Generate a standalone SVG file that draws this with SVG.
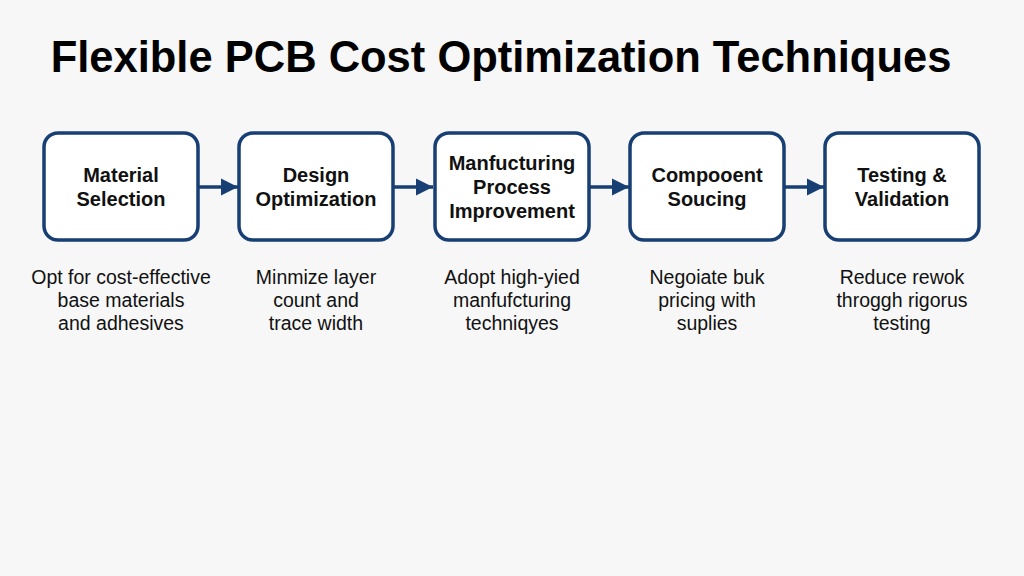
<svg xmlns="http://www.w3.org/2000/svg" width="1024" height="576" viewBox="0 0 1024 576">
<defs>
<marker id="ah" viewBox="0 0 10 10" refX="10" refY="5" markerWidth="5" markerHeight="5" markerUnits="strokeWidth" orient="auto"><path d="M0,0 L10,5 L0,10 z" fill="#173f73"/></marker>
<style>
.box{fill:#ffffff;stroke:#173f73;stroke-width:3.5}
.lbl{font-family:"Liberation Sans",Arial,sans-serif;font-weight:bold;font-size:20px;fill:#111;text-anchor:middle}
.desc{font-family:"Liberation Sans",Arial,sans-serif;font-size:19.5px;fill:#111;text-anchor:middle}
.title{font-family:"Liberation Sans",Arial,sans-serif;font-weight:bold;font-size:43.5px;fill:#000;text-anchor:middle}
.conn{stroke:#173f73;stroke-width:3.5;fill:none;marker-end:url(#ah)}
</style>
</defs>
<rect width="1024" height="576" fill="#f7f7f7"/>
<text class="title" x="501" y="72">Flexible PCB Cost Optimization Techniques</text>
<g id="connectors">
<line class="conn" x1="198" y1="187" x2="238" y2="187"/>
<line class="conn" x1="393" y1="187" x2="433" y2="187"/>
<line class="conn" x1="589" y1="187" x2="629" y2="187"/>
<line class="conn" x1="784" y1="187" x2="824" y2="187"/>
</g>
<g id="n1">
<rect class="box" x="44" y="133" width="154" height="107" rx="14"/>
<text class="lbl" x="121" y="182">Material</text>
<text class="lbl" x="121" y="206">Selection</text>
<text class="desc" x="121" y="284">Opt for cost-effective</text>
<text class="desc" x="121" y="307">base materials</text>
<text class="desc" x="121" y="330">and adhesives</text>
</g>
<g id="n2">
<rect class="box" x="239" y="133" width="154" height="107" rx="14"/>
<text class="lbl" x="316" y="182">Design</text>
<text class="lbl" x="316" y="206">Optimization</text>
<text class="desc" x="316" y="284">Minmize layer</text>
<text class="desc" x="316" y="307">count and</text>
<text class="desc" x="316" y="330">trace width</text>
</g>
<g id="n3">
<rect class="box" x="435" y="133" width="154" height="107" rx="14"/>
<text class="lbl" x="512" y="170">Manfucturing</text>
<text class="lbl" x="512" y="194">Process</text>
<text class="lbl" x="512" y="218">Improvement</text>
<text class="desc" x="512" y="284">Adopt high-yied</text>
<text class="desc" x="512" y="307">manfufcturing</text>
<text class="desc" x="512" y="330">techniqyes</text>
</g>
<g id="n4">
<rect class="box" x="630" y="133" width="154" height="107" rx="14"/>
<text class="lbl" x="707" y="182">Compooent</text>
<text class="lbl" x="707" y="206">Soucing</text>
<text class="desc" x="707" y="284">Negoiate buk</text>
<text class="desc" x="707" y="307">pricing with</text>
<text class="desc" x="707" y="330">suplies</text>
</g>
<g id="n5">
<rect class="box" x="825" y="133" width="154" height="107" rx="14"/>
<text class="lbl" x="902" y="182">Testing &amp;</text>
<text class="lbl" x="902" y="206">Validation</text>
<text class="desc" x="902" y="284">Reduce rewok</text>
<text class="desc" x="902" y="307">throggh rigorus</text>
<text class="desc" x="902" y="330">testing</text>
</g>
</svg>
